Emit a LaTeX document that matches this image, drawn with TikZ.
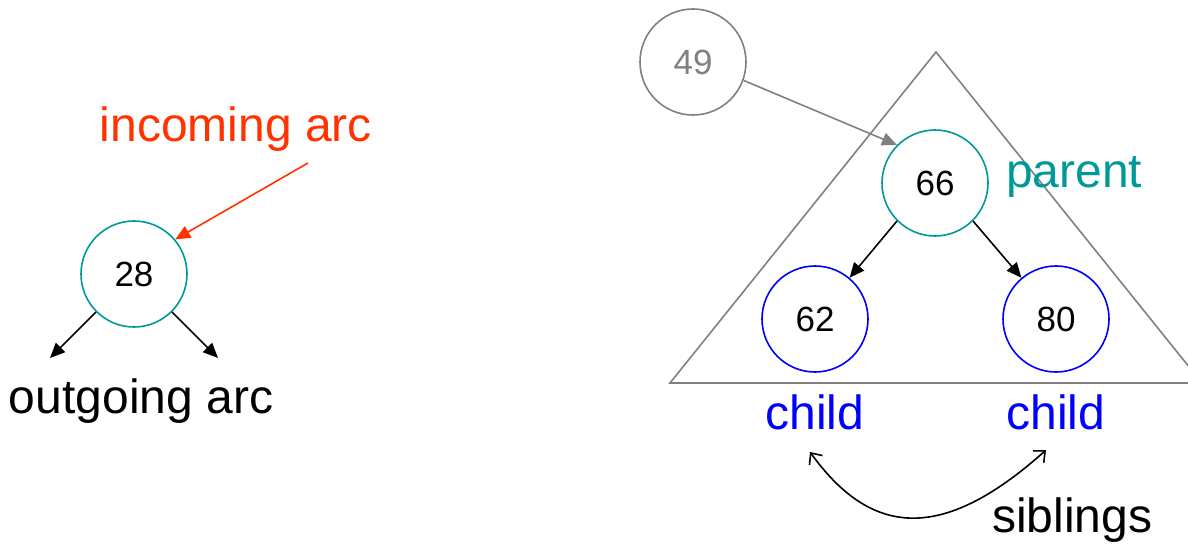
\documentclass[tikz,border=0pt]{standalone}
\usepackage{fontspec}
\setmainfont{Liberation Sans}
\usetikzlibrary{arrows.meta}
\definecolor{tealc}{HTML}{009999}
\definecolor{redc}{HTML}{FF3300}
\definecolor{bluec}{HTML}{0000FF}
\definecolor{grayc}{HTML}{808080}
\tikzset{
  vtx/.style={circle, draw, line width=1.6pt, minimum size=106pt, inner sep=0pt, font=\fontsize{35}{42}\selectfont},
  lbl/.style={inner sep=0pt, font=\fontsize{48}{56}\selectfont},
  arc/.style={line width=1.6pt, -{Triangle[length=15pt,width=13pt]}},
}
\begin{document}
\begin{tikzpicture}[x=1pt,y=-1pt]
\useasboundingbox (0,0) rectangle (1188,545);
\clip (0,0) rectangle (1188,545);
% left example
\node[vtx, draw=tealc] (n28) at (134,274) {28};
\node[lbl, text=redc, anchor=base] (inc) at (236,142) {incoming arc};
\coordinate (incs) at (308,163);
\draw[arc, redc] (incs) -- (n28.40);
\coordinate (o1) at (50,358);
\coordinate (o2) at (218,358);
\draw[arc] (n28.225) -- (o1);
\draw[arc] (n28.-45) -- (o2);
\node[lbl, anchor=base] (out) at (141,413) {outgoing arc};
% triangle
\coordinate (ta) at (936,52);
\coordinate (tl) at (670,383);
\coordinate (tr) at (1202,383);
\draw[grayc, line width=1.6pt] (tl) -- (ta) -- (tr) -- cycle;
% nodes
\node[vtx, draw=grayc, text=grayc] (n49) at (693,62) {49};
\node[vtx, draw=tealc, fill=white] (n66) at (935,183) {66};
\node[vtx, draw=bluec] (n62) at (815,319) {62};
\node[vtx, draw=bluec] (n80) at (1056,319) {80};
\draw[arc, grayc] (n49.-20) -- (n66.135);
\draw[arc] (n66.225) -- (n62.50);
\draw[arc] (n66.-45) -- (n80.130);
\node[lbl, text=tealc, anchor=base west] (par) at (1006,188) {parent};
\node[lbl, text=bluec, anchor=base] (c1) at (815,429) {child};
\node[lbl, text=bluec, anchor=base] (c2) at (1056,429) {child};
\coordinate (s1) at (810,452);
\coordinate (s2) at (1046,450);
\draw[line width=1.6pt, {Straight Barb[length=9pt,width=16pt]}-{Straight Barb[length=9pt,width=16pt]}] (s1) .. controls (870,535) and (940,545) .. (s2);
\node[lbl, anchor=base west] (sib) at (992,532) {siblings};
\end{tikzpicture}
\end{document}
